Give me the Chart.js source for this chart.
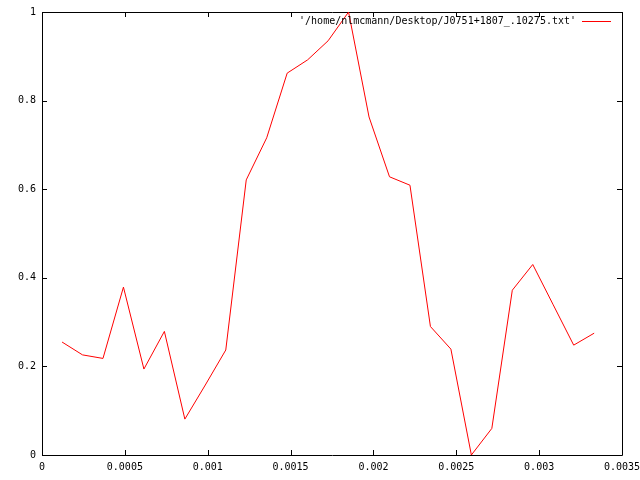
<!DOCTYPE html>
<html>
<head>
<meta charset="utf-8">
<script src="https://cdn.jsdelivr.net/npm/chart.js@4/dist/chart.umd.min.js"></script>
<style>
  body { margin: 0; background: #fff; }
  #wrap { width: 640px; height: 480px; }
</style>
</head>
<body>
<div id="wrap"><canvas id="plot" width="640" height="480"></canvas></div>
<script>
// data
var seriesLabel = "'/home/nlmcmann/Desktop/J0751+1807_.10275.txt'";
var xValues = [0.000121, 0.0002445, 0.000368, 0.0004915, 0.000615, 0.0007385, 0.000862,
               0.0009855, 0.001109, 0.0012325, 0.001356, 0.0014795, 0.001603, 0.0017265,
               0.00185, 0.0019735, 0.002097, 0.0022205, 0.002344, 0.0024675, 0.002591,
               0.0027145, 0.002838, 0.0029615, 0.003085, 0.0032085, 0.003332];
var yValues = [0.255, 0.226, 0.218, 0.379, 0.194, 0.279, 0.081,
               0.158, 0.237, 0.621, 0.716, 0.862, 0.892, 0.935,
               1.0, 0.763, 0.628, 0.609, 0.290, 0.239, 0.0,
               0.060, 0.372, 0.430, 0.339, 0.248, 0.275];
var xTicks = [0, 0.0005, 0.001, 0.0015, 0.002, 0.0025, 0.003, 0.0035];
var yTicks = [0, 0.2, 0.4, 0.6, 0.8, 1];

var points = [];
for (var i = 0; i < xValues.length; i++) {
    points.push({x: xValues[i], y: yValues[i]});
}

var monoFont = {family: "'DejaVu Sans Mono', monospace", size: 10};

function fmt(v) {
    return parseFloat(Number(v).toFixed(4)).toString();
}

// gnuplot style frame with inward ticks on all four sides, plus the key
var gnuplotFrame = {
    id: "gnuplotFrame",
    beforeDatasetsDraw: function(chart) {
        var ctx = chart.ctx, a = chart.chartArea;
        var xs = chart.scales.x, ys = chart.scales.y;
        var len = 5;
        ctx.save();
        ctx.strokeStyle = "#000";
        ctx.lineWidth = 1;
        ctx.beginPath();
        ctx.rect(Math.round(a.left) + 0.5, Math.round(a.top) + 0.5,
                 Math.round(a.right - a.left), Math.round(a.bottom - a.top));
        xTicks.forEach(function(t) {
            var px = Math.round(xs.getPixelForValue(t)) + 0.5;
            ctx.moveTo(px, a.bottom); ctx.lineTo(px, a.bottom - len);
            ctx.moveTo(px, a.top); ctx.lineTo(px, a.top + len);
        });
        yTicks.forEach(function(t) {
            var py = Math.round(ys.getPixelForValue(t)) + 0.5;
            ctx.moveTo(a.left, py); ctx.lineTo(a.left + len, py);
            ctx.moveTo(a.right, py); ctx.lineTo(a.right - len, py);
        });
        ctx.stroke();
        ctx.restore();
    },
    afterDatasetsDraw: function(chart) {
        var ctx = chart.ctx, a = chart.chartArea;
        var ds = chart.data.datasets[0];
        var y = a.top + 9.5;
        ctx.save();
        ctx.font = "10px 'DejaVu Sans Mono', monospace";
        ctx.fillStyle = "#000";
        ctx.textAlign = "right";
        ctx.textBaseline = "middle";
        ctx.fillText(ds.label, a.right - 46, y);
        ctx.strokeStyle = ds.borderColor;
        ctx.lineWidth = 1;
        ctx.beginPath();
        ctx.moveTo(a.right - 40, y);
        ctx.lineTo(a.right - 11, y);
        ctx.stroke();
        ctx.restore();
    }
};

var chart = new Chart(document.getElementById("plot").getContext("2d"), {
    type: "scatter",
    data: {
        datasets: [{
            label: seriesLabel,
            data: points,
            showLine: true,
            borderColor: "#ff0000",
            backgroundColor: "#ff0000",
            borderWidth: 1,
            pointRadius: 0,
            tension: 0
        }]
    },
    options: {
        responsive: false,
        animation: false,
        devicePixelRatio: 1,
        layout: {padding: {left: 0, top: 12, right: 18, bottom: 0}},
        plugins: {
            legend: {display: false},
            tooltip: {enabled: false}
        },
        scales: {
            x: {
                type: "linear",
                min: 0,
                max: 0.0035,
                grid: {display: false, drawTicks: false},
                border: {display: false},
                ticks: {
                    stepSize: 0.0005,
                    color: "#000",
                    font: monoFont,
                    padding: 6,
                    maxRotation: 0,
                    autoSkip: false,
                    callback: function(v) { return fmt(v); }
                },
                afterFit: function(scale) {
                    scale.height = 25;
                    scale.paddingLeft = 0;
                    scale.paddingRight = 0;
                }
            },
            y: {
                type: "linear",
                min: 0,
                max: 1,
                grid: {display: false, drawTicks: false},
                border: {display: false},
                ticks: {
                    stepSize: 0.2,
                    color: "#000",
                    font: monoFont,
                    padding: 6,
                    callback: function(v) { return fmt(v); }
                },
                afterFit: function(scale) {
                    scale.width = 42;
                    scale.paddingTop = 0;
                    scale.paddingBottom = 0;
                }
            }
        }
    },
    plugins: [gnuplotFrame]
});
</script>
</body>
</html>
